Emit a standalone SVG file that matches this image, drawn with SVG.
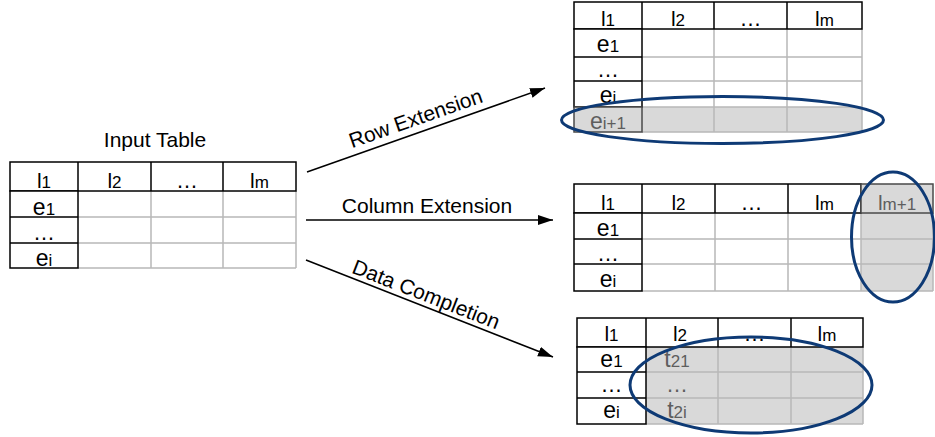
<svg xmlns="http://www.w3.org/2000/svg" width="935" height="437" viewBox="0 0 935 437">
<style>
.bg{fill:#fff}
.blk{stroke:#000;stroke-width:1.5;fill:#fff}
.blkn{stroke:#000;stroke-width:1.5;fill:none}
.dk{stroke:#4a4a4a;stroke-width:1.5;fill:#d9d9d9}
.grid{stroke:#b8b8b8;stroke-width:1.5;fill:none}
.shade{fill:#d9d9d9}
.t{font-family:"Liberation Sans",Arial,Helvetica,sans-serif;text-anchor:middle;fill:#000}
.h{font-size:21px}
.e{font-size:23px}
.d{font-size:22px}
.s{font-size:17px}
.g{fill:#5e5e5e}
.lab{font-family:"Liberation Sans",Arial,Helvetica,sans-serif;font-size:21px;fill:#000;text-anchor:middle}
.oval{fill:none;stroke:#0e3a75;stroke-width:3}
.conn{stroke:#000;stroke-width:1.5;fill:none;marker-end:url(#ah)}
</style>
<defs>
<marker id="ah" markerWidth="16" markerHeight="12" refX="15" refY="5" orient="auto" markerUnits="userSpaceOnUse">
<path d="M0 0L15 5L0 10Z" fill="#000"/>
</marker>
</defs>
<rect class="bg" x="0" y="0" width="935" height="437"/>

<g id="input-table">
<text class="lab" x="155" y="147">Input Table</text>
<path class="grid" d="M78 217H296M78 243H296M78 268H296M151 191V268M223 191V268M296 191V268"/>
<rect class="blk" x="10" y="162" width="286" height="29"/>
<path class="blkn" d="M78 162V191M151 162V191M223 162V191"/>
<rect class="blk" x="10" y="191" width="68" height="77"/>
<path class="blkn" d="M10 217H78M10 243H78"/>
<text class="t" x="44" y="188"><tspan class="h">l</tspan><tspan class="s">1</tspan></text>
<text class="t" x="114.5" y="188"><tspan class="h">l</tspan><tspan class="s">2</tspan></text>
<text class="t d" x="187" y="188">…</text>
<text class="t" x="259.5" y="188"><tspan class="h">l</tspan><tspan class="s">m</tspan></text>
<text class="t" x="44" y="214.5"><tspan class="e">e</tspan><tspan class="s">1</tspan></text>
<text class="t d" x="44" y="239.5">…</text>
<text class="t" x="44" y="265.5"><tspan class="e">e</tspan><tspan class="s">i</tspan></text>
</g>

<g id="row-extension-table">
<rect class="shade" x="574" y="107" width="288" height="25"/>
<path class="grid" d="M642 57H862M642 81H862M642 107H862M642 132H862M714 29V132M787 29V132M862 29V132"/>
<rect class="blk" x="574" y="2" width="288" height="27"/>
<path class="blkn" d="M642 2V29M714 2V29M787 2V29"/>
<rect class="blk" x="574" y="29" width="68" height="78"/>
<path class="blkn" d="M574 57H642M574 81H642"/>
<rect class="dk" x="574" y="107" width="68" height="25"/>
<text class="t" x="608" y="26"><tspan class="h">l</tspan><tspan class="s">1</tspan></text>
<text class="t" x="678" y="26"><tspan class="h">l</tspan><tspan class="s">2</tspan></text>
<text class="t d" x="750.5" y="26">…</text>
<text class="t" x="824.5" y="26"><tspan class="h">l</tspan><tspan class="s">m</tspan></text>
<text class="t" x="608" y="52"><tspan class="e">e</tspan><tspan class="s">1</tspan></text>
<text class="t d" x="608" y="77">…</text>
<text class="t" x="608" y="103"><tspan class="e">e</tspan><tspan class="s">i</tspan></text>
<text class="t g" x="608" y="129"><tspan class="e">e</tspan><tspan class="s">i+1</tspan></text>
<ellipse class="oval" cx="722.5" cy="120" rx="161" ry="23.5"/>
</g>

<g id="column-extension-table">
<rect class="shade" x="861" y="184" width="72" height="107"/>
<path class="grid" d="M642 239H933M642 264H933M642 291H933M715 213V291M788 213V291M861 213V291M933 213V291"/>
<rect class="blk" x="574" y="184" width="287" height="29"/>
<path class="blkn" d="M642 184V213M715 184V213M788 184V213"/>
<rect class="dk" x="861" y="184" width="72" height="29"/>
<rect class="blk" x="574" y="213" width="68" height="78"/>
<path class="blkn" d="M574 239H642M574 264H642"/>
<text class="t" x="608" y="210"><tspan class="h">l</tspan><tspan class="s">1</tspan></text>
<text class="t" x="678.5" y="210"><tspan class="h">l</tspan><tspan class="s">2</tspan></text>
<text class="t d" x="751.5" y="210">…</text>
<text class="t" x="824.5" y="210"><tspan class="h">l</tspan><tspan class="s">m</tspan></text>
<text class="t g" x="897" y="210"><tspan class="h">l</tspan><tspan class="s">m+1</tspan></text>
<text class="t" x="608" y="235.5"><tspan class="e">e</tspan><tspan class="s">1</tspan></text>
<text class="t d" x="608" y="260.5">…</text>
<text class="t" x="608" y="286.5"><tspan class="e">e</tspan><tspan class="s">i</tspan></text>
<ellipse class="oval" cx="893" cy="237" rx="41.5" ry="65"/>
</g>

<g id="data-completion-table">
<rect class="shade" x="646" y="347" width="217" height="77"/>
<path class="grid" d="M646 372H863M646 398H863M646 424H863M718 347V424M791 347V424M863 347V424"/>
<rect class="blk" x="577" y="318" width="286" height="29"/>
<path class="blkn" d="M646 318V347M718 318V347M791 318V347"/>
<rect class="blk" x="577" y="347" width="69" height="77"/>
<path class="blkn" d="M577 372H646M577 398H646"/>
<text class="t" x="611.5" y="341"><tspan class="h">l</tspan><tspan class="s">1</tspan></text>
<text class="t" x="680" y="341"><tspan class="h">l</tspan><tspan class="s">2</tspan></text>
<text class="t d" x="754.5" y="341">…</text>
<text class="t" x="827" y="341"><tspan class="h">l</tspan><tspan class="s">m</tspan></text>
<text class="t" x="611.5" y="367"><tspan class="e">e</tspan><tspan class="s">1</tspan></text>
<text class="t d" x="611.5" y="392">…</text>
<text class="t" x="611.5" y="418"><tspan class="e">e</tspan><tspan class="s">i</tspan></text>
<text class="t g" x="677" y="367"><tspan class="e">t</tspan><tspan class="s">21</tspan></text>
<text class="t g d" x="677" y="392">…</text>
<text class="t g" x="677" y="418"><tspan class="e">t</tspan><tspan class="s">2i</tspan></text>
<ellipse class="oval" cx="751" cy="385" rx="121" ry="48"/>
</g>

<g id="connectors">
<path class="conn" d="M307 172L545 88"/>
<path class="conn" d="M306 220L553 220"/>
<path class="conn" d="M306 260L553 357"/>
<text class="lab" transform="translate(418 125) rotate(-19.3)">Row Extension</text>
<text class="lab" x="427" y="213">Column Extension</text>
<text class="lab" transform="translate(423.5 301) rotate(21.4)">Data Completion</text>
</g>
</svg>
